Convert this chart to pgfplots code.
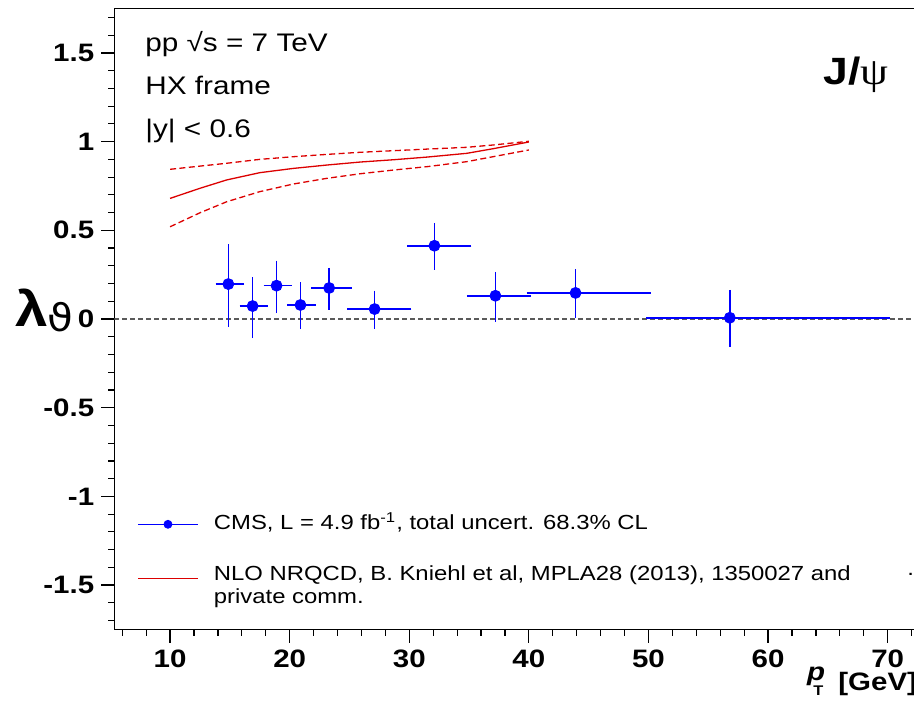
\documentclass[border=0pt]{standalone}
\usepackage{pgfplots}
\usepackage{pgfplotstable}
\pgfplotsset{compat=1.18}
\usepackage{fontspec}
\setmainfont{Liberation Sans}[FakeStretch=1.17]
\newfontfamily\dejavu{DejaVu Sans}[FakeStretch=1.1]
\newfontfamily\lserif{Liberation Serif}[FakeStretch=1.17]
\definecolor{cmsblue}{RGB}{0,0,255}
\definecolor{nlored}{RGB}{220,0,0}
\definecolor{zerogray}{RGB}{90,90,90}

\pgfplotstableread{
x     y      xm   xp    ym    yp
14.87 0.197  0.87 1.13  0.227 0.211
16.9  0.073  0.9  1.1   0.169 0.151
18.9  0.188  0.9  1.1   0.143 0.129
20.9  0.079  0.9  1.1   0.124 0.117
23.3  0.175  1.3  1.7   0.111 0.101
27.1  0.056  2.1  2.9   0.099 0.092
32.1  0.413  2.1  2.9   0.124 0.117
37.2  0.131  2.2  2.8   0.133 0.123
43.9  0.147  3.9  6.1   0.130 0.122
56.8  0.007  6.8  13.2  0.151 0.145
}\cmsdata

\pgfplotstableread{
x     c     up    lo
10    0.680 0.844 0.520
12.5  0.737 0.862 0.599
14.73 0.784 0.878 0.661
17.5  0.825 0.900 0.718
20.3  0.849 0.915 0.761
23.1  0.868 0.928 0.793
25.9  0.885 0.940 0.819
28.7  0.898 0.949 0.840
31.5  0.913 0.958 0.859
34.8  0.934 0.968 0.887
37.0  0.960 0.981 0.915
40.0  0.998 1.002 0.953
}\nlodata

\begin{document}
\begin{tikzpicture}
\useasboundingbox (0,0) rectangle (457pt,351.5pt);
\begin{axis}[
  at={(57.24pt,36.8pt)}, anchor=south west,
  scale only axis, width=416.5pt, height=310.4pt,
  xmin=5.35, xmax=75, ymin=-1.75, ymax=1.75,
  axis line style={line width=0.6pt},
  every tick/.style={line width=0.6pt, black},
  tick pos=left, tick align=outside,
  major tick length=6.6pt, minor tick length=3.2pt,
  xtick={10,20,30,40,50,60,70},
  minor xtick={6,8,...,74},
  ytick={-1.5,-1,-0.5,0,0.5,1,1.5},
  minor ytick={-1.7,-1.6,...,1.75},
  ticklabel style={font=\bfseries\fontsize{12.6}{14}\selectfont},
  /pgf/number format/assume math mode=true,
  legend style={at={(0.0279,0.1843)}, anchor=north west, draw=none, fill=none,
    inner sep=0pt, outer sep=0pt, row sep=1.5pt, column sep=7.85pt,
    font=\fontsize{10.2}{12}\selectfont, cells={anchor=base west},
    nodes={inner sep=0pt, text height=7.5pt, text depth=2.5pt}},
]
\addplot[forget plot, zerogray, line width=0.65pt, dash pattern=on 2.5pt off 1.5pt] coordinates {(5.35,0) (75,0)};
\addplot[forget plot, nlored, line width=0.65pt] table[x=x, y=c]{\nlodata};
\addplot[forget plot, nlored, line width=0.65pt, dash pattern=on 3pt off 1.7pt] table[x=x, y=up]{\nlodata};
\addplot[forget plot, nlored, line width=0.65pt, dash pattern=on 3pt off 1.7pt] table[x=x, y=lo]{\nlodata};
\addplot[forget plot, draw=cmsblue, fill=cmsblue, only marks, mark=*, mark size=2.75pt,
  error bars/.cd, x dir=both, x explicit, y dir=both, y explicit,
  error mark=-,
  error bar style={line width=0.8pt, draw=cmsblue, solid},
  error mark options={line width=0.8pt, mark size=1.1pt, draw=cmsblue, solid}]
  table[x=x, y=y, x error minus=xm, x error plus=xp, y error minus=ym, y error plus=yp]{\cmsdata};

\addlegendimage{legend image code/.code={\draw[cmsblue,line width=0.65pt] (0pt,2.85pt) -- (29.6pt,2.85pt); \fill[cmsblue] (14.8pt,2.85pt) circle (2pt);}}
\addlegendentry[text depth=16pt]{CMS, L = 4.9 fb\textsuperscript{-1}, total uncert. 68.3\% CL}
\addlegendimage{legend image code/.code={\draw[nlored,line width=0.65pt] (0pt,0.85pt) -- (29.6pt,0.85pt);}}
\addlegendentry{NLO NRQCD, B. Kniehl et al, MPLA28 (2013), 1350027 and}
\addlegendimage{empty legend}
\addlegendentry{private comm.}
\end{axis}
\node[anchor=base west, inner sep=0pt, font=\fontsize{12.7}{14}\selectfont] at (72.5pt,325.7pt) {pp √s = 7 TeV};
\node[anchor=base west, inner sep=0pt, font=\fontsize{12.7}{14}\selectfont] at (72.5pt,304.3pt) {HX frame};
\node[anchor=base west, inner sep=0pt, font=\fontsize{12.7}{14}\selectfont] at (72.5pt,282.7pt) {|y| < 0.6};
\node[anchor=base west, inner sep=0pt] at (411.5pt,309pt) {\fontsize{19}{20}\selectfont\bfseries J/{\lserif\mdseries ψ}};
\node[anchor=base west, inner sep=0pt] at (7.5pt,188.2pt) {\fontsize{25}{26}\selectfont\bfseries λ{\dejavu\mdseries\fontsize{19}{19}\selectfont\raisebox{-2.5pt}{ϑ}}};
\node[anchor=base west, inner sep=0pt, font=\bfseries\itshape\fontsize{12.6}{14}\selectfont] at (403.3pt,11.25pt) {p};
\node[anchor=base west, inner sep=0pt, font=\bfseries\fontsize{7}{8}\selectfont] at (406.5pt,4pt) {T};
\node[anchor=base west, inner sep=0pt, font=\bfseries\fontsize{12.6}{14}\selectfont] at (419pt,6.5pt) {[GeV]};
\node[anchor=base west, inner sep=0pt, font=\fontsize{10.2}{12}\selectfont] at (453.5pt,64pt) {.};
\end{tikzpicture}
\end{document}
